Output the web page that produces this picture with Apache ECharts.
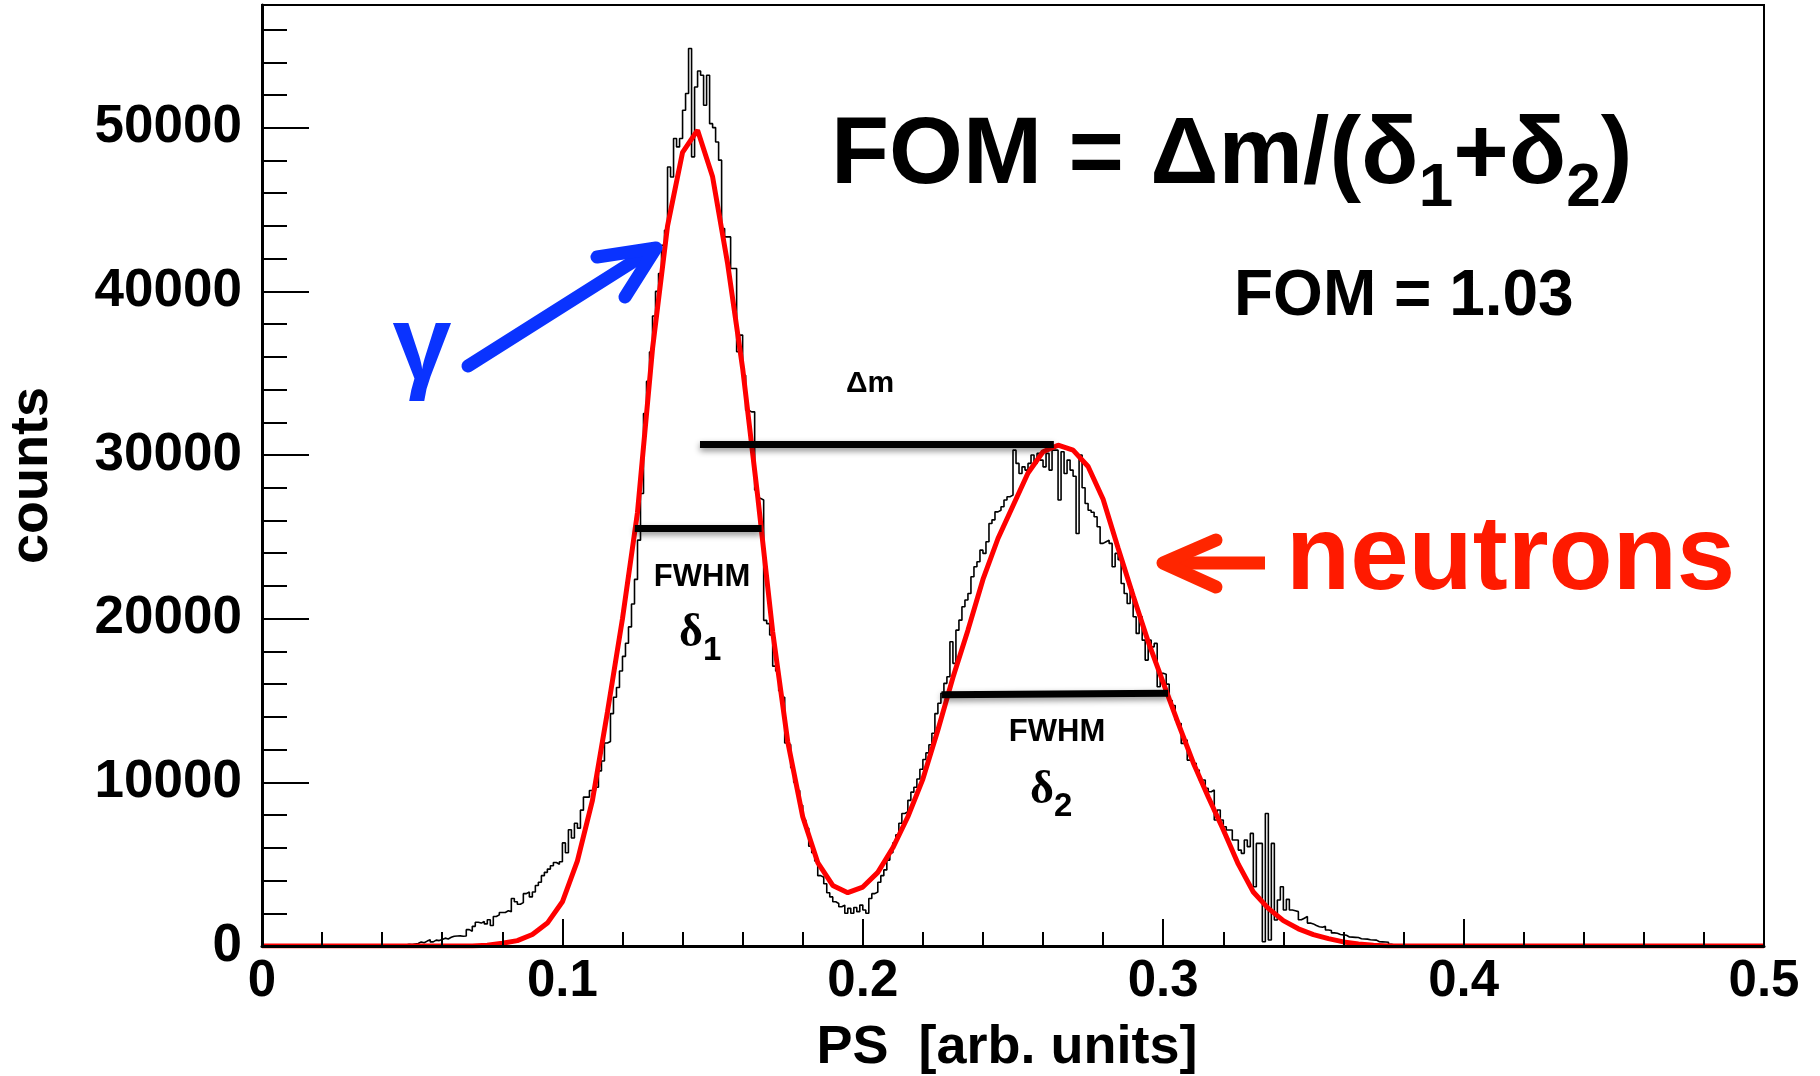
<!DOCTYPE html>
<html>
<head>
<meta charset="utf-8">
<script src="https://cdn.jsdelivr.net/npm/echarts@6/dist/echarts.min.js"></script>
<style>
  html, body { margin: 0; padding: 0; background: #fff; }
  #chart { width: 1820px; height: 1076px; }
</style>
</head>
<body>
<div id="chart"></div>
<script>
// ---------------- data ----------------
const X_MIN = 0, X_MAX = 0.5, X_STEP = 0.1;
const Y_MIN = 0, Y_MAX = 57500, Y_STEP = 10000;

// PSD histogram: 0.001-wide bins, first listed bin starts at PS = 0.040
const BIN_WIDTH = 0.001;
const HIST_FIRST_BIN = 40;
const histCounts = [
  0, 0, 0, 0, 0, 20, 40, 60, 110, 90,
  120, 150, 250, 200, 300, 380, 250, 360, 330, 400,
  480, 430, 530, 600, 610, 620, 600, 610, 1000, 900,
  1200, 1450, 1400, 1500, 1350, 1600, 1250, 1800, 1900, 2050,
  2050, 2150, 2100, 2900, 2700, 2550, 2650, 3200, 3300, 3000,
  3300, 3700, 3900, 4300, 4500, 4700, 4900, 5100, 5000, 5150,
  6300, 5700, 7100, 6600, 7500, 7200, 8300, 9100, 9100, 9500,
  9500, 9700, 10700, 11300, 12400, 12500, 14200, 15200, 15800, 16800,
  17700, 18500, 19500, 20900, 22400, 24800, 27650, 32540, 34500, 36300,
  38500, 40000, 41090, 42820, 43740, 47600, 46990, 49340, 48830, 49340,
  51070, 52090, 54840, 48220, 52490, 53470, 53210, 51370, 53210, 50250,
  50010, 49130, 48020, 43840, 43330, 43330, 41400, 41400, 36310, 37330,
  34880, 32740, 32640, 32640, 27860, 27350, 27250, 19900, 19700, 19000,
  17100, 16800, 15600, 15200, 12400, 12300, 10900, 10000, 9500, 8600,
  7700, 7200, 6100, 5700, 5200, 4300, 4200, 3800, 3250, 3000,
  2700, 2600, 2400, 2500, 2000, 2300, 2000, 2350, 2100, 2500,
  2200, 2000, 2900, 3200, 3300, 3900, 4300, 4650, 5250, 5700,
  6300, 6800, 7500, 8100, 8200, 8900, 9400, 9700, 10200, 10800,
  11400, 11800, 12300, 13000, 14200, 14830, 15440, 16050, 16450, 18590,
  17270, 19300, 19910, 20730, 21140, 21540, 22560, 23170, 23480, 24190,
  23990, 24700, 25820, 26040, 26530, 26630, 26840, 27250, 27450, 27550,
  30300, 29490, 28870, 29280, 29080, 29490, 30000, 29490, 30100, 29690,
  29280, 30100, 29080, 30300, 30300, 27250, 30200, 28870, 29690, 29080,
  28700, 25210, 30000, 28000, 27040, 26630, 26500, 26230, 25620, 24600,
  24700, 24800, 24600, 23170, 23990, 23600, 22150, 21540, 20930, 21750,
  20120, 19100, 20120, 18690, 17470, 18690, 18280, 18490, 15840, 16660,
  16600, 16000, 15000, 14700, 13810, 13600, 12380, 12580, 11360, 11360,
  11160, 10750, 10140, 10140, 9630, 9430, 9530, 7700, 8310, 7700,
  7290, 7090, 7090, 6480, 6480, 5860, 5660, 6480, 6070, 6880,
  3620, 6270, 6270, 260, 8100, 370, 6270, 1590, 2810, 3620,
  2200, 2850, 2200, 2150, 2100, 1600, 1700, 1800, 1400, 1350,
  1250, 1180, 1150, 1200, 980, 950, 800, 780, 700, 680,
  660, 550, 540, 530, 520, 440, 430, 420, 380, 370,
  360, 260, 250, 240, 230, 100, 60, 40, 20, 10
];

// double-peak fit, sampled every 0.005 from PS = 0
const FIT_STEP = 0.005;
const fitCounts = [
  0, 0, 0, 0, 0, 0, 0, 0, 0, 0,
  0, 0, 0, 0, 0, 40, 170, 330, 700, 1400,
  2700, 5200, 8900, 14300, 20000, 26500, 36500, 44000, 48500, 49850,
  47000, 41700, 35300, 27500, 19200, 12500, 7900, 5100, 3700, 3260,
  3600, 4500, 6000, 7900, 10200, 13200, 16400, 19300, 22400, 24900,
  26900, 28900, 30200, 30600, 30300, 29300, 27300, 24300, 21400, 18600,
  16100, 13600, 11200, 9100, 7100, 5000, 3300, 2300, 1550, 1050,
  700, 450, 250, 130, 40, 0, 0, 0, 0, 0,
  0, 0, 0, 0, 0, 0, 0, 0, 0, 0,
  0, 0, 0, 0, 0, 0, 0, 0, 0, 0,
  0
];

// peak separation and FWHM bars (PS, counts)
const deltaMLine = { x: [0.1458, 0.2636], y: [30630, 30630] };
const fwhm1Line  = { x: [0.1241, 0.1663], y: [25530, 25530] };
const fwhm2Line  = { x: [0.2262, 0.3016], y: [15350, 15450] };

const xTitle = 'PS  [arb. units]';
const yTitle = 'counts';

// ---------------- styling ----------------
const SANS = '"Liberation Sans", Arial, Helvetica, sans-serif';
const SERIF = '"Liberation Serif", "Times New Roman", serif';
const MID = { sans: 0.3465, serif: 0.3375 };   // em-box middle above baseline
const BLUE = '#0a33ff';
const RED_TEXT = '#ff1a00';
const RED_ARROW = '#ff2600';

// ---------------- series data ----------------
const nBins = Math.round((X_MAX - X_MIN) / BIN_WIDTH);
const histPoints = [];
for (let i = 0; i < nBins; i++) {
  const k = i - HIST_FIRST_BIN;
  const c = (k >= 0 && k < histCounts.length) ? histCounts[k] : 0;
  histPoints.push([+(X_MIN + i * BIN_WIDTH).toFixed(4), c]);
}
histPoints.push([X_MAX, 0]);

const fitPoints = fitCounts.map((c, i) => [+(X_MIN + i * FIT_STEP).toFixed(4), c]);

const segment = (l) => [{ coord: [l.x[0], l.y[0]] }, { coord: [l.x[1], l.y[1]] }];

// ---------------- text helpers ----------------
const measureCtx = document.createElement('canvas').getContext('2d');
function fontOf(p) {
  return `${p.weight || 'bold'} ${p.size}px ${p.serif ? SERIF : SANS}`;
}
function widthOf(p) {
  measureCtx.font = fontOf(p);
  return measureCtx.measureText(p.text).width;
}
// lays out a run of text pieces on a common baseline (pieces may be lowered by dy)
function textRun(x, baseline, parts, fill, align) {
  const total = parts.reduce((s, p) => s + widthOf(p), 0);
  let cx = align === 'center' ? x - total / 2 : x;
  return parts.map(p => {
    const el = {
      type: 'text',
      x: cx,
      y: baseline + (p.dy || 0) - (p.serif ? MID.serif : MID.sans) * p.size,
      z: 100,
      style: {
        text: p.text,
        font: fontOf(p),
        fill: fill,
        align: 'left',
        verticalAlign: 'middle'
      }
    };
    cx += widthOf(p);
    return el;
  });
}

const graphics = [].concat(
  textRun(831, 190, [
    { text: 'FOM = \u0394m/(\u03b4', size: 95 },
    { text: '1', size: 62, dy: 20 },
    { text: '+\u03b4', size: 95 },
    { text: '2', size: 62, dy: 20 },
    { text: ')', size: 95 }
  ], '#000'),
  textRun(1234, 320, [{ text: 'FOM = 1.03', size: 64 }], '#000'),
  textRun(870, 394, [{ text: '\u0394m', size: 30 }], '#000', 'center'),
  textRun(702, 588, [{ text: 'FWHM', size: 31 }], '#000', 'center'),
  textRun(679, 650, [
    { text: '\u03b4', size: 46, serif: true },
    { text: '1', size: 33, dy: 12 }
  ], '#000'),
  textRun(1057, 743, [{ text: 'FWHM', size: 31 }], '#000', 'center'),
  textRun(1030, 807, [
    { text: '\u03b4', size: 46, serif: true },
    { text: '2', size: 33, dy: 11 }
  ], '#000'),
  textRun(422, 386, [{ text: '\u03b3', size: 106 }], BLUE, 'center'),
  textRun(1286, 596, [{ text: 'neutrons', size: 105 }], RED_TEXT),
  [
    // gamma arrow
    { type: 'polyline', z: 100, shape: { points: [[468, 366], [650, 251]] },
      style: { stroke: BLUE, lineWidth: 13, lineCap: 'round', fill: null } },
    { type: 'polyline', z: 100, shape: { points: [[597, 257], [656, 248], [625, 297]] },
      style: { stroke: BLUE, lineWidth: 13, lineCap: 'round', lineJoin: 'round', fill: null } },
    // neutron arrow
    { type: 'polyline', z: 100, shape: { points: [[1265, 563], [1170, 563]] },
      style: { stroke: RED_ARROW, lineWidth: 13, lineCap: 'butt', fill: null } },
    { type: 'polyline', z: 100, shape: { points: [[1216, 540], [1163, 563], [1216, 587]] },
      style: { stroke: RED_ARROW, lineWidth: 13, lineCap: 'round', lineJoin: 'round', fill: null } }
  ]
);

// ---------------- chart ----------------
const chart = echarts.init(document.getElementById('chart'), null, { renderer: 'canvas' });

const xLabelFont = { fontFamily: SANS, fontWeight: 'bold', fontSize: 51, color: '#000' };
const yLabelFont = { fontFamily: SANS, fontWeight: 'bold', fontSize: 53, color: '#000' };
const titleFont = { fontFamily: SANS, fontWeight: 'bold', fontSize: 54, color: '#000' };

chart.setOption({
  animation: false,
  backgroundColor: '#fff',
  grid: {
    left: 262, right: 56, top: 5, bottom: 130,
    show: true, borderColor: '#000', borderWidth: 2,
    outerBoundsMode: 'none'
  },
  xAxis: {
    type: 'value',
    z: 10,
    min: X_MIN, max: X_MAX, interval: X_STEP,
    axisLine: { onZero: false, lineStyle: { color: '#000', width: 3 } },
    axisTick: { inside: true, length: 27, lineStyle: { color: '#000', width: 2 } },
    minorTick: { show: true, splitNumber: 5, length: 14, lineStyle: { color: '#000', width: 2 } },
    splitLine: { show: false },
    axisLabel: Object.assign({ margin: 10 }, xLabelFont),
    name: xTitle,
    nameLocation: 'middle',
    nameGap: 75,
    nameTextStyle: Object.assign({ padding: [0, 12, 0, 0] }, titleFont)
  },
  yAxis: {
    type: 'value',
    z: 10,
    min: Y_MIN, max: Y_MAX, interval: Y_STEP,
    axisLine: { onZero: false, lineStyle: { color: '#000', width: 3 } },
    axisTick: { inside: true, length: 47, lineStyle: { color: '#000', width: 2 } },
    minorTick: { show: true, splitNumber: 5, length: 25, lineStyle: { color: '#000', width: 2 } },
    splitLine: { show: false },
    axisLabel: Object.assign({
      margin: 20,
      showMaxLabel: false,
      formatter: v => (v % Y_STEP === 0 ? String(v) : '')
    }, yLabelFont),
    name: yTitle,
    nameLocation: 'middle',
    nameGap: 203,
    nameTextStyle: titleFont
  },
  series: [
    {
      name: 'PS histogram',
      type: 'line',
      step: 'end',
      symbol: 'none',
      z: 2,
      silent: true,
      lineStyle: { color: '#000', width: 1.6 },
      data: histPoints
    },
    {
      name: 'fit',
      type: 'line',
      symbol: 'none',
      smooth: false,
      z: 3,
      silent: true,
      lineStyle: { color: '#ff0000', width: 5 },
      data: fitPoints,
      markLine: {
        silent: true,
        z: 6,
        symbol: ['none', 'none'],
        label: { show: false },
        emphasis: { disabled: true },
        lineStyle: {
          color: '#000', width: 7, type: 'solid',
          shadowColor: 'rgba(0,0,0,0.45)', shadowBlur: 6, shadowOffsetY: 3
        },
        data: [segment(deltaMLine), segment(fwhm1Line), segment(fwhm2Line)]
      }
    }
  ],
  graphic: graphics
});
</script>
</body>
</html>
